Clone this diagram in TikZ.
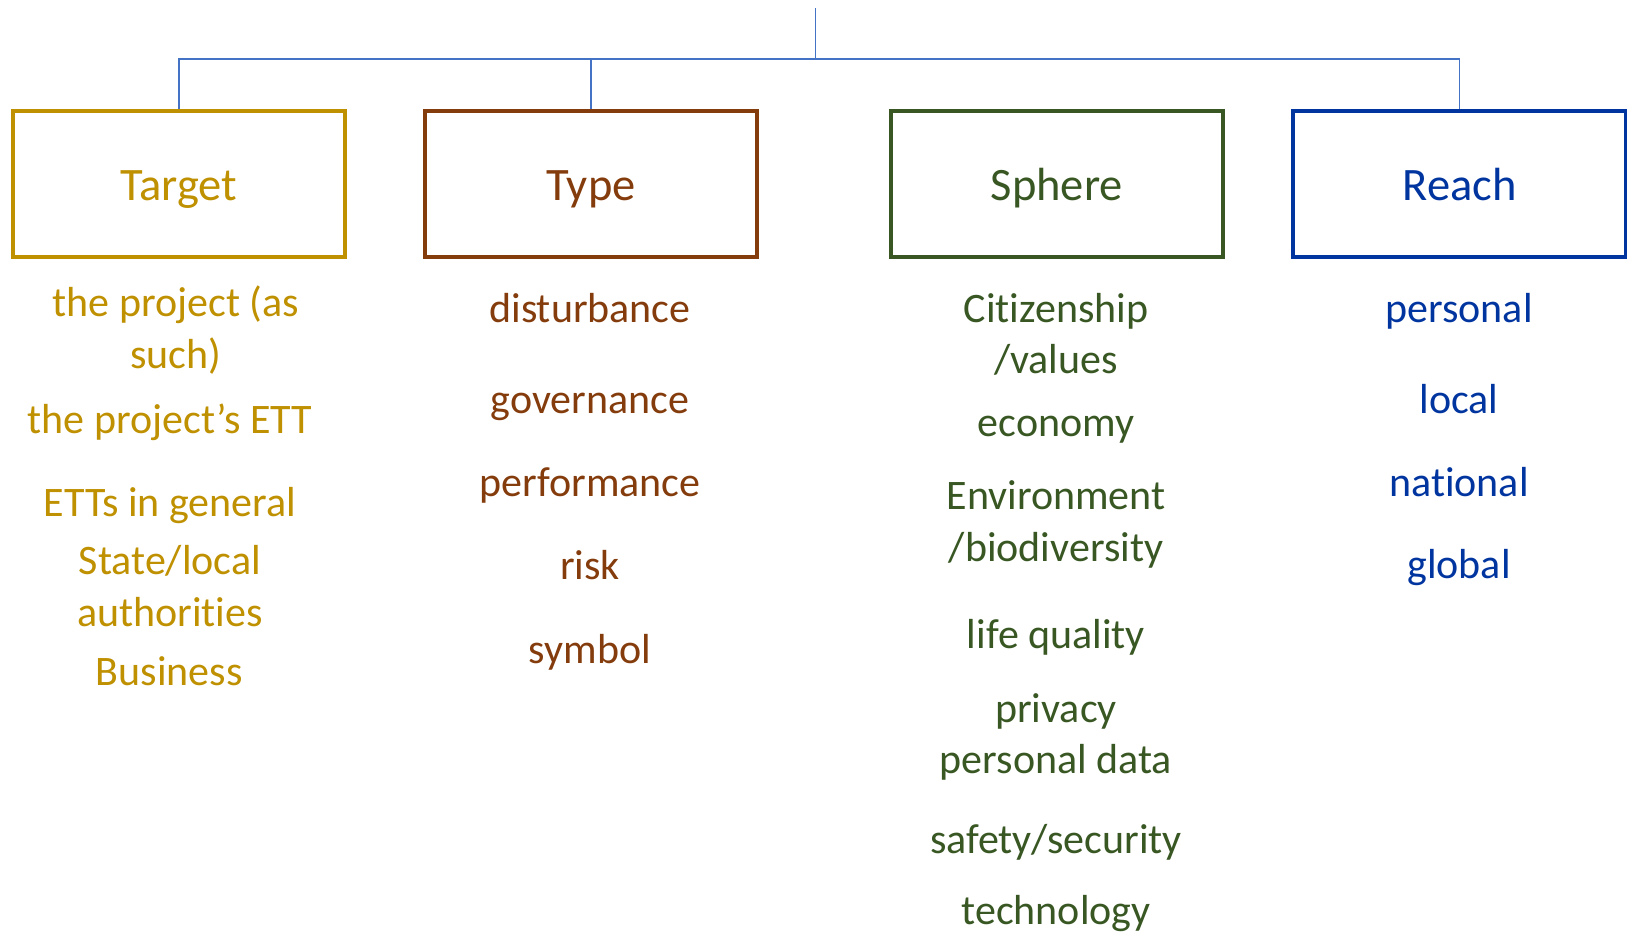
\documentclass[tikz,border=0pt]{standalone}
\usepackage{fontspec}
\setmainfont{Carlito}[Ligatures=NoCommon]
\definecolor{cTarget}{HTML}{BF9000}
\definecolor{cType}{HTML}{843C0C}
\definecolor{cSphere}{HTML}{385723}
\definecolor{cReach}{HTML}{0035A0}
\definecolor{cLink}{HTML}{4472C4}
\begin{document}
\begin{tikzpicture}[x=1pt,y=-1pt,
  box/.style={draw=#1, line width=4pt, minimum width=332.5pt, minimum height=146.2pt,
    inner sep=0pt, text=#1, font=\fontsize{46.5}{56}\selectfont, text height=34pt, text depth=1.2pt},
  item/.style={text=#1, anchor=base, inner sep=0pt, align=center, font=\fontsize{42}{51.5}\selectfont},
  link/.style={draw=cLink, line width=1.5pt}]
\useasboundingbox (0,0) rectangle (1627,935);
\fill[white] (0,0) rectangle (1627,935);

% boxes
\node[box=cTarget] (target) at (178.75,183.6) {Target};
\node[box=cType]   (type)   at (591,183.6) {Type};
\node[box=cSphere] (sphere) at (1056.75,183.6) {Sphere};
\node[box=cReach]  (reach)  at (1459.5,183.6) {Reach};

% connectors
\coordinate (top) at (815.6,8.3);
\coordinate (hub) at (815.6,59);
\draw[link] (top) -- (hub);
\draw[link] (hub) -| (target.north);
\draw[link] (hub) -| (type.north);
\draw[link] (hub) -| (reach.north);

% Target items (base anchor of a two-line node = baseline of its last line)
\node[item=cTarget] (t1) at (176,368.3) {the project (as\\such)};
\node[item=cTarget] (t2) at (170,433.3) {the project’s ETT};
\node[item=cTarget] (t3) at (170,516.7) {ETTs in general};
\node[item=cTarget] (t4) at (170,626) {State/local\\authorities};
\node[item=cTarget] (t5) at (169.2,685) {Business};

% Type items
\node[item=cType] (y1) at (590,322.5) {disturbance};
\node[item=cType] (y2) at (590,413) {governance};
\node[item=cType] (y3) at (590,496) {performance};
\node[item=cType] (y4) at (590,579) {risk};
\node[item=cType] (y5) at (590,663) {symbol};

% Sphere items
\node[item=cSphere] (s1) at (1056,373.7) {Citizenship\\/values};
\node[item=cSphere] (s2) at (1056,436) {economy};
\node[item=cSphere] (s3) at (1056,561.3) {Environment\\/biodiversity};
\node[item=cSphere] (s4) at (1056,648.7) {life quality};
\node[item=cSphere] (s5) at (1056,773.7) {privacy\\personal data};
\node[item=cSphere] (s6) at (1056,853) {safety/security};
\node[item=cSphere] (s7) at (1056,924) {technology};

% Reach items
\node[item=cReach] (r1) at (1459,322.5) {personal};
\node[item=cReach] (r2) at (1459,413) {local};
\node[item=cReach] (r3) at (1459,496) {national};
\node[item=cReach] (r4) at (1459,578.5) {global};
\end{tikzpicture}
\end{document}
